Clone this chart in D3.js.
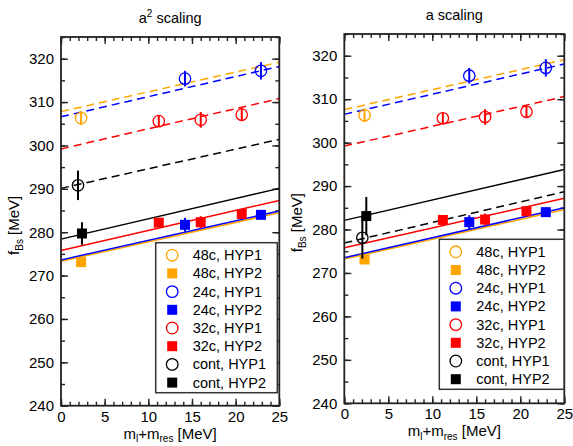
<!DOCTYPE html>
<html>
<head>
<meta charset="utf-8">
<script src="https://cdn.jsdelivr.net/npm/d3@7"></script>
<style>
  body { margin: 0; background: #fff; }
  svg { font-family: "Liberation Sans", Arial, sans-serif; }
</style>
</head>
<body>
<svg id="chart" width="573" height="446"></svg>
<script>
// ensembles, in legend order
const ensembles = ["48c", "24c", "32c", "cont"];
const ensColors = ["#ffa500", "#0000ff", "#ff0000", "#000000"];
const legendLabels = ["48c, HYP1", "48c, HYP2", "24c, HYP1", "24c, HYP2",
                      "32c, HYP1", "32c, HYP2", "cont, HYP1", "cont, HYP2"];

// lattice data (same in both panels)
const mass48 = [2.3];
const mass24 = [14.2, 22.9];
const mass32 = [11.2, 16.0, 20.7];

const fBs48Hyp1 = [306.3];
const err48Hyp1 = [1.6];
const fBs24Hyp1 = [315.4, 317.2];
const err24Hyp1 = [1.8, 2.0];
const fBs32Hyp1 = [305.6, 305.9, 307.1];
const err32Hyp1 = [1.3, 1.8, 1.5];

const fBs48Hyp2 = [273.1];
const err48Hyp2 = [1.0];
const fBs24Hyp2 = [281.7, 284.0];
const err24Hyp2 = [1.6, 1.0];
const fBs32Hyp2 = [282.2, 282.3, 284.2];
const err32Hyp2 = [0.9, 1.4, 0.8];

// continuum points [HYP1, HYP2]
const contMassA2 = [1.95, 2.4];
const contFA2 = [290.8, 279.7];
const contErrA2 = [3.4, 2.6];
const contMassA = [2.05, 2.5];
const contFA = [278.1, 283.1];
const contErrA = [4.8, 4.4];

// fit lines: value at m=0 and m=25, order 48c, 24c, 32c, cont
const fitRange = [0, 25];
const fitA2Hyp1 = [[307.8, 319.2], [306.6, 318.2], [299.2, 310.8], [290.1, 301.4]];
const fitA2Hyp2 = [[273.3, 284.5], [273.6, 284.9], [275.8, 287.3], [278.4, 290.1]];
const fitAHyp1 = [[307.6, 319.1], [306.5, 318.1], [299.2, 310.6], [276.9, 288.7]];
const fitAHyp2 = [[273.2, 284.6], [273.5, 285.0], [275.8, 287.2], [282.1, 293.8]];

const xTicks = [0, 5, 10, 15, 20, 25];
const yTicks = [240, 250, 260, 270, 280, 290, 300, 310, 320];

const svg = d3.select("#chart");

function drawPanel(p) {
  const x = d3.scaleLinear().domain([0, 25]).range([p.left, p.right]);
  const y = d3.scaleLinear().domain([240, 325]).range([p.bottom, p.top]);
  const g = svg.append("g");

  // axes with inward ticks
  const minorX = d3.range(0, 26, 1);
  const minorY = d3.range(240, 326, 5);
  function addAxis(axis, tx, ty) {
    const a = g.append("g").attr("transform", `translate(${tx},${ty})`).call(axis);
    a.select(".domain").remove();
    a.selectAll("line").attr("stroke", "#222").attr("stroke-width", 1.4);
    a.selectAll("text").attr("font-size", 15).attr("fill", "#000")
      .attr("font-family", "Liberation Sans, Arial, sans-serif");
    return a;
  }
  addAxis(d3.axisBottom(x).tickValues(minorX).tickSize(-4).tickFormat(""), 0, p.bottom);
  addAxis(d3.axisBottom(x).tickValues(xTicks).tickSize(-7).tickPadding(5.5).tickFormat(d3.format("d")), 0, p.bottom);
  addAxis(d3.axisTop(x).tickValues(minorX).tickSize(-4).tickFormat(""), 0, p.top);
  addAxis(d3.axisTop(x).tickValues(xTicks).tickSize(-7).tickFormat(""), 0, p.top);
  addAxis(d3.axisLeft(y).tickValues(minorY).tickSize(-4).tickFormat(""), p.left, 0);
  addAxis(d3.axisLeft(y).tickValues(yTicks).tickSize(-7).tickPadding(7).tickFormat(d3.format("d")), p.left, 0);
  addAxis(d3.axisRight(y).tickValues(minorY).tickSize(-4).tickFormat(""), p.right, 0);
  addAxis(d3.axisRight(y).tickValues(yTicks).tickSize(-7).tickFormat(""), p.right, 0);

  // fit lines
  const line = d3.line().x(d => x(d[0])).y(d => y(d[1]));
  [p.fitHyp2, p.fitHyp1].forEach((fits, k) => {
    fits.forEach((f, i) => {
      g.append("path")
        .datum([[fitRange[0], f[0]], [fitRange[1], f[1]]])
        .attr("d", line)
        .attr("fill", "none")
        .attr("stroke", ensColors[i])
        .attr("stroke-width", 1.5)
        .attr("stroke-dasharray", k === 1 ? "8,5" : null);
    });
  });

  // points
  function points(ms, vs, es, color, open) {
    ms.forEach((m, i) => {
      g.append("line")
        .attr("x1", x(m)).attr("x2", x(m))
        .attr("y1", y(vs[i] - es[i])).attr("y2", y(vs[i] + es[i]))
        .attr("stroke", color).attr("stroke-width", 2);
      if (open) {
        g.append("circle").attr("cx", x(m)).attr("cy", y(vs[i])).attr("r", 5.7)
          .attr("fill", "none").attr("stroke", color).attr("stroke-width", 1.3);
      } else {
        g.append("rect").attr("x", x(m) - 5).attr("y", y(vs[i]) - 5)
          .attr("width", 10).attr("height", 10).attr("fill", color);
      }
    });
  }
  points(mass48, fBs48Hyp1, err48Hyp1, ensColors[0], true);
  points(mass48, fBs48Hyp2, err48Hyp2, ensColors[0], false);
  points(mass24, fBs24Hyp1, err24Hyp1, ensColors[1], true);
  points(mass24, fBs24Hyp2, err24Hyp2, ensColors[1], false);
  points(mass32, fBs32Hyp1, err32Hyp1, ensColors[2], true);
  points(mass32, fBs32Hyp2, err32Hyp2, ensColors[2], false);
  points([p.contMass[0]], [p.contF[0]], [p.contErr[0]], ensColors[3], true);
  points([p.contMass[1]], [p.contF[1]], [p.contErr[1]], ensColors[3], false);

  // frame
  g.append("rect")
    .attr("x", p.left).attr("y", p.top)
    .attr("width", p.right - p.left).attr("height", p.bottom - p.top)
    .attr("fill", "none").attr("stroke", "#222").attr("stroke-width", 1.8);

  // legend
  const lg = g.append("g");
  lg.append("rect")
    .attr("x", p.legX).attr("y", p.legY)
    .attr("width", p.legW).attr("height", 150)
    .attr("fill", "#fff").attr("stroke", "#333").attr("stroke-width", 1.5);
  legendLabels.forEach((lab, i) => {
    const cy = p.legY + 12.5 + i * 18.2;
    const sx = p.legX + 16.5;
    const color = ensColors[Math.floor(i / 2)];
    if (i % 2 === 0) {
      lg.append("circle").attr("cx", sx).attr("cy", cy).attr("r", 5.8)
        .attr("fill", "none").attr("stroke", color).attr("stroke-width", 1.3);
    } else {
      lg.append("rect").attr("x", sx - 5).attr("y", cy - 5)
        .attr("width", 10).attr("height", 10).attr("fill", color);
    }
    lg.append("text").attr("x", p.legX + 37).attr("y", cy + 5)
      .attr("font-size", 14.5).text(lab);
  });

  // title
  const t = g.append("text").attr("x", (p.left + p.right) / 2).attr("y", p.top - 14)
    .attr("text-anchor", "middle").attr("font-size", 14.5);
  t.append("tspan").text("a");
  if (p.squared) {
    t.append("tspan").attr("font-size", 10).attr("dy", -6).text("2");
    t.append("tspan").attr("dy", 6).text(" scaling");
  } else {
    t.append("tspan").text(" scaling");
  }

  // x label
  const xl = g.append("text").attr("x", (p.left + p.right) / 2).attr("y", p.bottom + 33)
    .attr("text-anchor", "middle").attr("font-size", 15);
  xl.append("tspan").text("m");
  xl.append("tspan").attr("font-size", 10).attr("dy", 3.5).text("l");
  xl.append("tspan").attr("dy", -3.5).text("+m");
  xl.append("tspan").attr("font-size", 10).attr("dy", 3.5).text("res");
  xl.append("tspan").attr("dy", -3.5).text(" [MeV]");

  // y label
  const yl = g.append("text")
    .attr("transform", `translate(${p.left - 42},${(p.top + p.bottom) / 2 + 4}) rotate(-90)`)
    .attr("text-anchor", "middle").attr("font-size", 15);
  yl.append("tspan").text("f");
  yl.append("tspan").attr("font-size", 10).attr("dy", 4).text("Bs");
  yl.append("tspan").attr("dy", -4).text(" [MeV]");
}

drawPanel({
  left: 61, right: 279.3, top: 37, bottom: 405.7, squared: true,
  fitHyp1: fitA2Hyp1, fitHyp2: fitA2Hyp2,
  contMass: contMassA2, contF: contFA2, contErr: contErrA2,
  legX: 155.7, legY: 242.7, legW: 121.6
});
drawPanel({
  left: 344.3, right: 564.3, top: 34, bottom: 403.3, squared: false,
  fitHyp1: fitAHyp1, fitHyp2: fitAHyp2,
  contMass: contMassA, contF: contFA, contErr: contErrA,
  legX: 439.3, legY: 239.3, legW: 124.7
});
</script>
</body>
</html>
